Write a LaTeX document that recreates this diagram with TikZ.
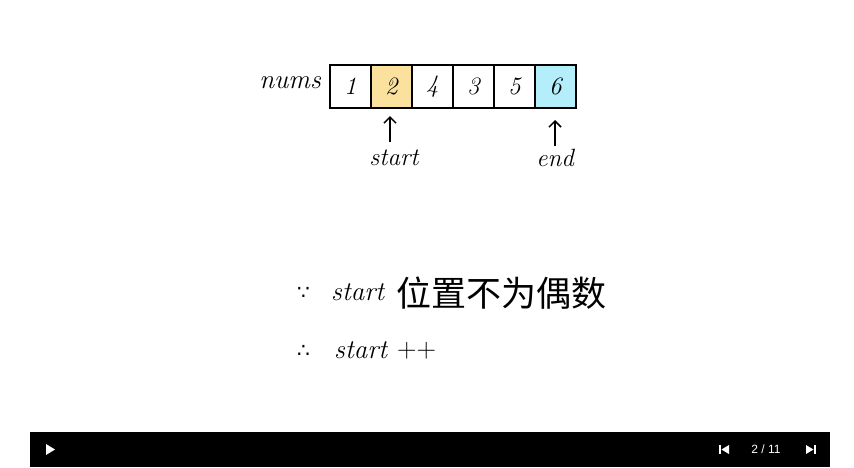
\documentclass[tikz,border=0pt]{standalone}
\usepackage{fontspec}
\newfontfamily\cjk{Noto Sans CJK SC}
\newfontfamily\djv{DejaVu Sans}
\newfontfamily\ui{Liberation Sans}
\usetikzlibrary{arrows.meta}
\definecolor{cyel}{HTML}{FAE29E}
\definecolor{ccyan}{HTML}{B5EEFB}
\tikzset{
  cell/.style={draw=black, line width=1.6pt, minimum width=41pt, minimum height=43pt, inner sep=0pt, anchor=north west, font=\fontsize{25}{27}\selectfont\itshape},
  hand/.style={font=\fontsize{25}{27}\selectfont\itshape, inner sep=0pt},
  ptr/.style={-{Straight Barb[length=6pt,width=12pt]}, line width=1.5pt},
  sym/.style={font=\djv\fontsize{20}{22}\selectfont, inner sep=0pt, anchor=west},
}
\begin{document}
\begin{tikzpicture}[x=1pt,y=-1pt]
\useasboundingbox (0,0) rectangle (854,467);
\fill[white] (0,0) rectangle (854,467);
% array
\node[cell] (c1) at (329,64) {1};
\node[cell, fill=cyel] (c2) at (370,64) {2};
\node[cell] (c3) at (411,64) {4};
\node[cell] (c4) at (452,64) {3};
\node[cell] (c5) at (493,64) {5};
\node[cell, fill=ccyan] (c6) at (534,64) {6};
\node[hand, anchor=east, font=\fontsize{27}{29}\selectfont\itshape] (nums) at (321,83) {nums};
% pointers
\node[hand] (start) at (394,158) {start};
\node[hand] (end) at (555,158) {end};
\coordinate (s0) at (390,142);
\coordinate (s1) at (390,116);
\coordinate (e0) at (555,146);
\coordinate (e1) at (555,120);
\draw[ptr] (s0) -- (s1);
\draw[ptr] (e0) -- (e1);
% reasoning
\node[sym] (because) at (297,293) {∵};
\node[hand, anchor=west, font=\fontsize{27}{29}\selectfont\itshape] (st1) at (331,292) {start};
\node[anchor=west, inner sep=0pt, font=\cjk\fontsize{35}{38}\selectfont] (cn) at (396,293) {位置不为偶数};
\node[sym] (therefore) at (297,351) {∴};
\node[hand, anchor=west, font=\fontsize{27}{29}\selectfont\itshape] (st2) at (334,350) {start};
\node[anchor=west, inner sep=0pt, font=\fontsize{27}{29}\selectfont] (pp) at (397,351) {++};
% player bar
\fill[black] (30,432) rectangle (830,467);
\node[inner sep=0pt] (play) at (50,449.5) {};
\fill[white] (46,444) -- (55,449.5) -- (46,455) -- cycle;
\node[inner sep=0pt] (prev) at (724,449.5) {};
\fill[white] (719,445) rectangle (721,454);
\fill[white] (729,445) -- (721.5,449.5) -- (729,454) -- cycle;
\node[white, inner sep=0pt, font=\ui\fontsize{12}{14}\selectfont] (page) at (766,449.5) {2 / 11};
\node[inner sep=0pt] (next) at (810,449.5) {};
\fill[white] (806,445) -- (813.5,449.5) -- (806,454) -- cycle;
\fill[white] (814,445) rectangle (816,454);
\end{tikzpicture}
\end{document}
